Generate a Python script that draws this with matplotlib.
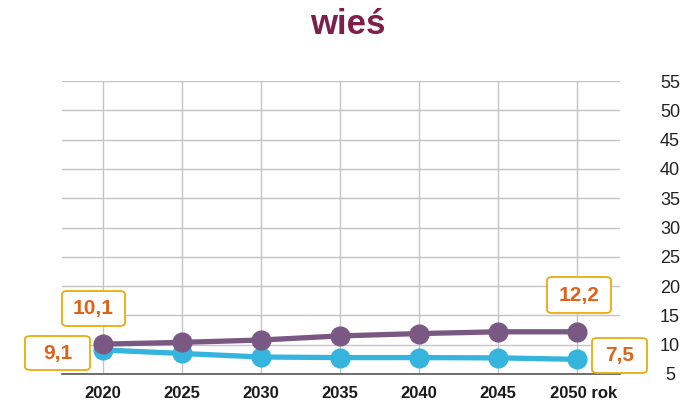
import matplotlib.pyplot as plt
import matplotlib.transforms as mtrans
from matplotlib.patches import FancyBboxPatch

years = [2020, 2025, 2030, 2035, 2040, 2045, 2050]
year_labels = ['2020', '2025', '2030', '2035', '2040', '2045', '2050 rok']
purple_vals = [10.1, 10.4, 10.8, 11.5, 11.9, 12.2, 12.2]
cyan_vals = [9.1, 8.5, 7.9, 7.8, 7.8, 7.75, 7.5]
y_ticks = [5, 10, 15, 20, 25, 30, 35, 40, 45, 50, 55]

PURPLE = '#7a5884'
CYAN = '#35b4dd'
TITLE = '#7d1f4b'
BOX_EDGE = '#e8ac0c'
BOX_TEXT = '#e0621a'

plt.rcParams['font.family'] = ['Liberation Sans', 'DejaVu Sans']

fig = plt.figure(figsize=(6.95, 4.12), dpi=100)
ax = fig.add_axes([62 / 695, 1 - 374 / 412, (620 - 62) / 695, (374 - 81) / 412])

ax.plot(years, purple_vals, color=PURPLE, lw=3.8, marker='o', ms=13.5, zorder=3)
ax.plot(years, cyan_vals, color=CYAN, lw=3.8, marker='o', ms=13.5, zorder=2)

ax.set_xlim(2017.4, 2052.7)
ax.set_ylim(5, 55)
ax.set_yticks(y_ticks)
ax.set_xticks(years)
ax.set_xticklabels(year_labels, fontweight='bold', fontsize=12, color='#1a1a1a')
ax.yaxis.tick_right()
ax.tick_params(axis='y', length=0, pad=36, labelsize=13, labelcolor='#222222')
ax.tick_params(axis='x', length=0, pad=9)
for lab in ax.get_yticklabels():
    lab.set_horizontalalignment('center')
# nudge "2050 rok" a bit to the right
last = ax.get_xticklabels()[-1]
last.set_transform(last.get_transform() + mtrans.ScaledTranslation(6 / 100, 0, fig.dpi_scale_trans))

ax.grid(True, color='#c4c4c4', lw=1)
ax.set_axisbelow(True)
for s in ['top', 'right', 'left']:
    ax.spines[s].set_visible(False)
ax.spines['bottom'].set_color('#555555')
ax.spines['bottom'].set_linewidth(1.2)

fig.text(0.5, 1 - 25 / 412, 'wieś', ha='center', va='center', fontsize=25,
         fontweight='bold', color=TITLE)

# annotation boxes (pixel coords: x0, y0_top, x1, y1_bottom, text)
boxes = [
    (62, 291, 125, 326, '10,1'),
    (25, 336, 90, 370, '9,1'),
    (547, 277, 611, 313, '12,2'),
    (592, 338, 647, 373, '7,5'),
]
for x0, y0, x1, y1, txt in boxes:
    fx0, fx1 = x0 / 695, x1 / 695
    fy0, fy1 = 1 - y1 / 412, 1 - y0 / 412
    patch = FancyBboxPatch((fx0, fy0), fx1 - fx0, fy1 - fy0,
                           boxstyle='round,pad=0,rounding_size=0.008',
                           transform=fig.transFigure, facecolor='white',
                           edgecolor=BOX_EDGE, lw=1.3, zorder=5)
    fig.add_artist(patch)
    fig.text((fx0 + fx1) / 2, (fy0 + fy1) / 2, txt, ha='center', va='center',
             fontsize=15, fontweight='bold', color=BOX_TEXT, zorder=6)

fig.savefig('out.png', dpi=100)
